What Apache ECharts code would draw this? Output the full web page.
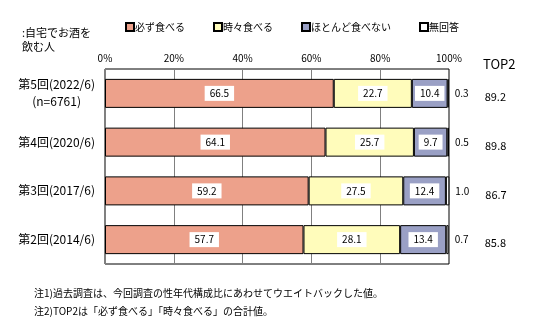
<!DOCTYPE html>
<html><head><meta charset="utf-8">
<script src="https://cdn.jsdelivr.net/npm/echarts@6/dist/echarts.min.js"></script>
<style>html,body{margin:0;padding:0;background:#fff}#c{width:542px;height:334px}</style>
</head><body><div id="c"></div>
<script>
const categories = ['第5回(2022/6)', '第4回(2020/6)', '第3回(2017/6)', '第2回(2014/6)'];
const subLabels = ['(n=6761)', '', '', ''];
const seriesNames = ['必ず食べる', '時々食べる', 'ほとんど食べない', '無回答'];
const always = [66.5, 64.1, 59.2, 57.7];
const sometimes = [22.7, 25.7, 27.5, 28.1];
const rarely = [10.4, 9.7, 12.4, 13.4];
const noAnswer = [0.3, 0.5, 1.0, 0.7];
const top2 = [89.2, 89.8, 86.7, 85.8];
const xTicks = [0, 20, 40, 60, 80, 100];

const FONT = '"Noto Sans CJK JP", sans-serif';
const colors = ['#EDA18B', '#FFFCBB', '#9AA0C5', '#FFFFFF'];
const values = [always, sometimes, rarely, noAnswer];

const chart = echarts.init(document.getElementById('c'), null, {renderer: 'canvas'});
const series = values.map((arr, si) => {
  const s = {
    name: seriesNames[si], type: 'bar', stack: 'total', barWidth: 29,
    data: arr,
    itemStyle: {color: colors[si], borderColor: '#000', borderWidth: 1},
    emphasis: {disabled: true}
  };
  if (si < 3) {
    s.label = {show: true, position: 'inside', color: '#000', fontFamily: FONT, fontSize: 10,
      backgroundColor: '#fff', padding: [3, 5, 2, 5],
      formatter: p => p.value.toFixed(1)};
  } else {
    s.label = {show: true, position: 'right', distance: 6, color: '#000', fontFamily: FONT, fontSize: 10,
      formatter: p => '{a|' + p.value.toFixed(1) + '}{b|' + top2[p.dataIndex].toFixed(1) + '}',
      rich: {
        a: {fontFamily: FONT, fontSize: 10, color: '#000', width: 30},
        b: {fontFamily: FONT, fontSize: 11, color: '#000', padding: [7, 0, 0, 0]}
      }};
  }
  return s;
});

chart.setOption({
  animation: false,
  textStyle: {fontFamily: FONT},
  title: [
    {text: 'TOP2', left: 478, top: 53, textStyle: {fontFamily: FONT, fontSize: 13, fontWeight: 'normal', color: '#000'}},
    {text: ':自宅でお酒を\n飲む人', left: 17, top: 21, textStyle: {fontFamily: FONT, fontSize: 11, fontWeight: 'normal', color: '#000', lineHeight: 14}},
    {text: '注1)過去調査は、今回調査の性年代構成比にあわせてウエイトバックした値。\n注2)TOP2は「必ず食べる」「時々食べる」の合計値。', left: 29, top: 279,
     textStyle: {fontFamily: FONT, fontSize: 10, fontWeight: 'normal', color: '#000', lineHeight: 18}}
  ],
  legend: {
    data: seriesNames, left: 120, top: 17, itemWidth: 8, itemHeight: 8, itemGap: 28, icon: 'rect',
    textStyle: {fontFamily: FONT, fontSize: 10, color: '#000', padding: [0, 0, 0, -4]},
    selectedMode: false
  },
  grid: {left: 105, right: 93, top: 69, bottom: 70, show: true, borderColor: '#000', borderWidth: 1, backgroundColor: '#fff'},
  xAxis: {
    type: 'value', position: 'top', min: xTicks[0], max: xTicks[xTicks.length - 1], interval: 20,
    axisLine: {show: false}, axisTick: {show: false},
    splitLine: {show: true, lineStyle: {color: '#808080', width: 1}},
    axisLabel: {formatter: '{value}%', fontFamily: FONT, fontSize: 10, color: '#000', margin: 6}
  },
  yAxis: {
    type: 'category', inverse: true, data: categories,
    axisLine: {show: false}, axisTick: {show: false},
    axisLabel: {
      margin: 10, color: '#000', fontFamily: FONT, fontSize: 12,
      formatter: (v, i) => subLabels[i] ? '{m|' + v + '}\n{s|' + subLabels[i] + '}' : '{m|' + v + '}',
      rich: {
        m: {fontFamily: FONT, fontSize: 12, color: '#000', lineHeight: 17},
        s: {fontFamily: FONT, fontSize: 12, color: '#000', lineHeight: 17, align: 'center'}
      }
    }
  },
  series: series
});
</script></body></html>
